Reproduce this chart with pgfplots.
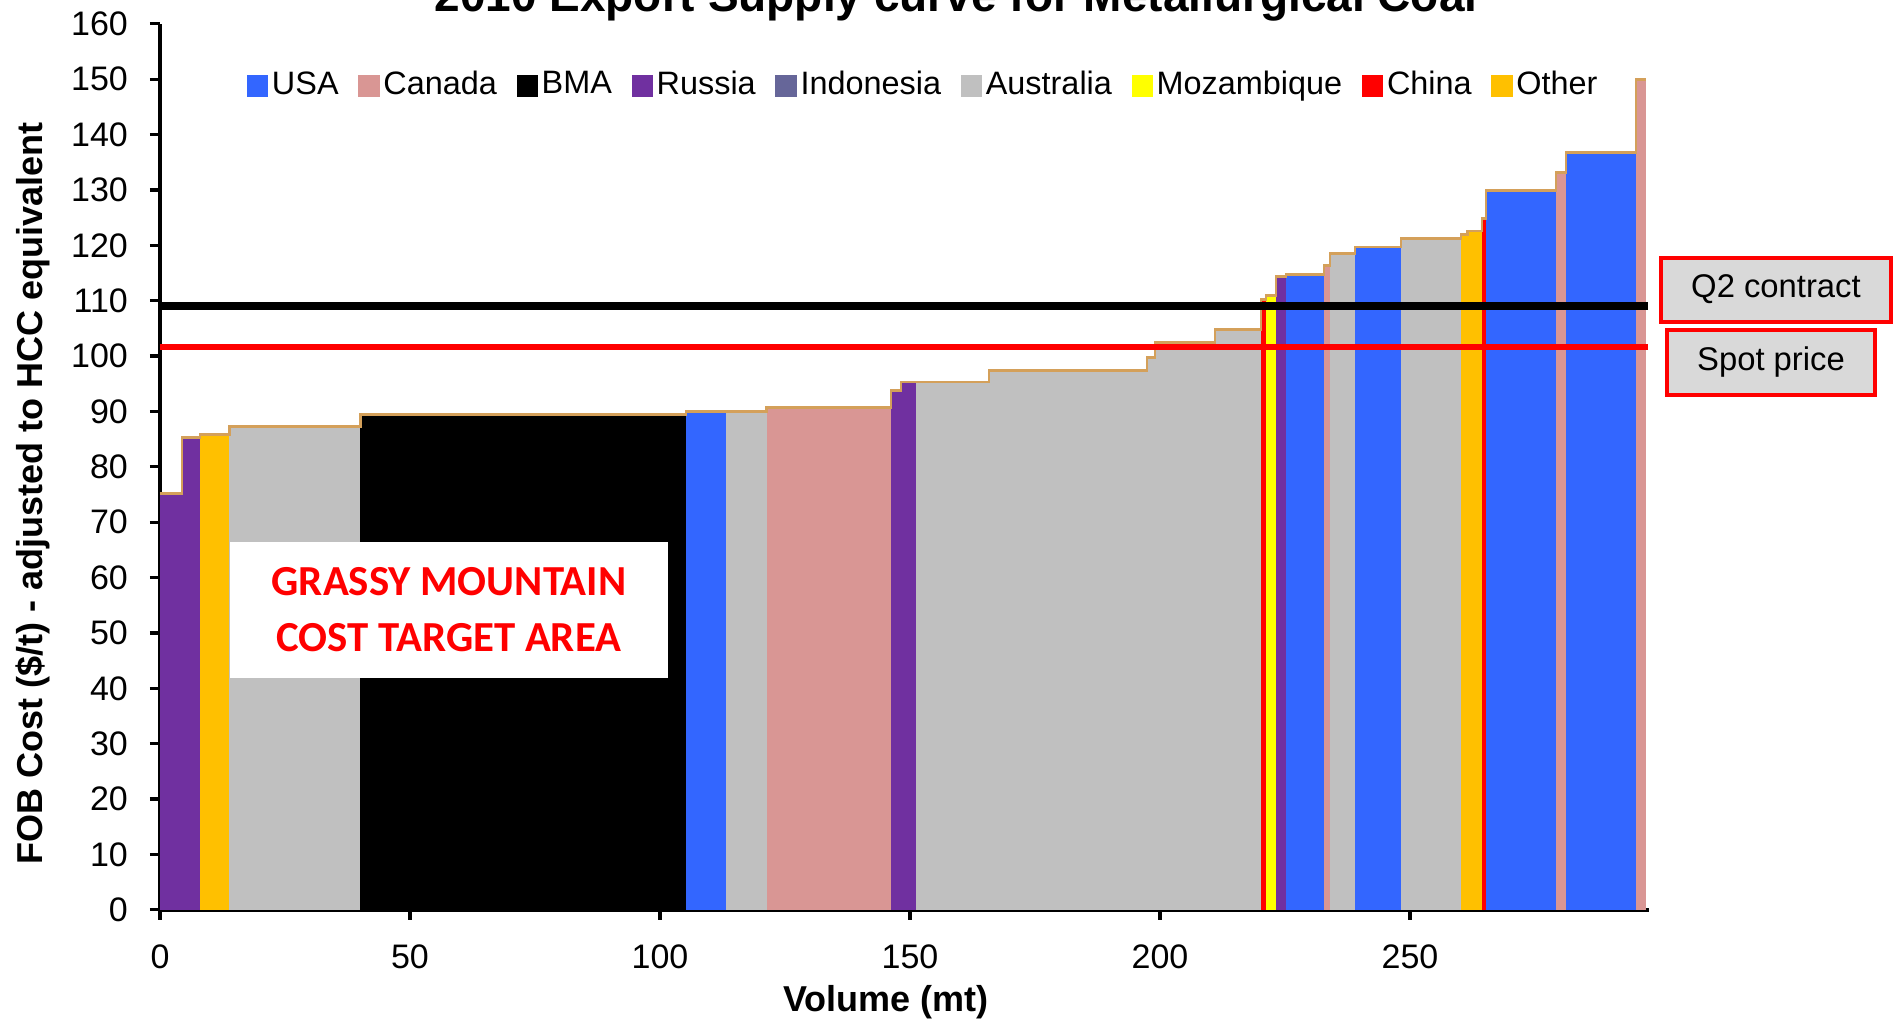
\documentclass[border=0pt]{standalone}
\usepackage{pgfplots}
\pgfplotsset{compat=1.18}
\usepackage{fontspec}
\setmainfont{Liberation Sans}
\newfontfamily\calibri{Carlito}

\definecolor{usa}{RGB}{51,102,255}
\definecolor{canada}{RGB}{217,150,148}
\definecolor{bma}{RGB}{0,0,0}
\definecolor{russia}{RGB}{112,48,160}
\definecolor{indonesia}{RGB}{102,102,153}
\definecolor{australia}{RGB}{192,192,192}
\definecolor{mozambique}{RGB}{255,255,0}
\definecolor{china}{RGB}{255,0,0}
\definecolor{other}{RGB}{255,192,0}
\definecolor{rim}{RGB}{212,160,90}
\definecolor{boxgray}{RGB}{217,217,217}

% one supply block: colour, left edge, right edge, cost
\newcommand{\cbar}[4]{\addplot[fill=#1, draw=none, forget plot] coordinates {(#2,#4) (#3,#4)} \closedcycle;}

\begin{document}
\begin{tikzpicture}
\begin{axis}[
  scale only axis, width=372.25pt, height=221.5pt,
  xmin=0, xmax=297.8, ymin=0, ymax=160,
  axis lines*=left,
  axis line style={line width=0.9pt},
  xtick={0,50,...,250}, ytick={0,10,...,160},
  tick align=outside, major tick length=2.5pt,
  tick style={black, line width=0.8pt},
  /pgf/number format/assume math mode=true,
  ticklabel style={font=\fontsize{8.5}{10}\selectfont},
  xticklabel style={yshift=-2.6pt},
  yticklabel style={xshift=-2pt},
  xlabel={Volume (mt)},
  ylabel={FOB Cost (\$/t) - adjusted to HCC equivalent},
  xlabel style={at={(axis description cs:0.4876,0)}, anchor=center, yshift=-23pt, font=\bfseries\fontsize{9}{10}\selectfont},
  ylabel style={at={(axis description cs:0,0.47)}, anchor=center, yshift=31.75pt, font=\bfseries\fontsize{9}{10}\selectfont},
  clip=false,
  legend image code/.code={\fill[#1, draw=none] (0pt,-2.7pt) rectangle (5.4pt,2.7pt);},
  legend columns=9,
  legend style={at={(axis cs:17.2,148.8)}, anchor=west, draw=none, fill=none, inner sep=0pt,
    font=\fontsize{8.1}{9}\selectfont, nodes={inner sep=0.9pt},
    /tikz/every even column/.append style={column sep=4pt}},
]
% supply curve blocks
\cbar{russia}{0}{4.4}{75.2}
\cbar{russia}{4.4}{8.0}{85.3}
\cbar{other}{8.0}{13.9}{85.8}
\cbar{australia}{13.9}{40.1}{87.3}
\cbar{bma}{40.1}{105.2}{89.5}
\cbar{usa}{105.2}{113.1}{90.0}
\cbar{australia}{113.1}{121.3}{90.0}
\cbar{canada}{121.3}{146.2}{90.7}
\cbar{russia}{146.2}{148.2}{93.8}
\cbar{russia}{148.2}{151.1}{95.3}
\cbar{australia}{151.1}{165.8}{95.3}
\cbar{australia}{165.8}{197.4}{97.4}
\cbar{australia}{197.4}{199.0}{99.8}
\cbar{australia}{199.0}{211.0}{102.5}
\cbar{australia}{211.0}{220.2}{104.8}
\cbar{china}{220.2}{221.2}{110.2}
\cbar{mozambique}{221.2}{223.2}{110.9}
\cbar{russia}{223.2}{225.2}{114.3}
\cbar{usa}{225.2}{232.8}{114.8}
\cbar{canada}{232.8}{234.0}{116.4}
\cbar{australia}{234.0}{239.0}{118.5}
\cbar{usa}{239.0}{248.2}{119.7}
\cbar{australia}{248.2}{260.2}{121.3}
\cbar{other}{260.2}{261.5}{122.0}
\cbar{other}{261.5}{264.4}{122.6}
\cbar{china}{264.4}{265.2}{124.8}
\cbar{usa}{265.2}{279.2}{129.9}
\cbar{canada}{279.2}{281.2}{133.2}
\cbar{usa}{281.2}{295.2}{136.8}
\cbar{canada}{295.2}{297.2}{150.0}

% rim along the top of the curve
\addplot[const plot, draw=rim, line width=0.7pt, forget plot] coordinates {
  (0,75.2) (4.4,85.3) (8.0,85.8) (13.9,87.3) (40.1,89.5) (105.2,90.0) (113.1,90.0)
  (121.3,90.7) (146.2,93.8) (148.2,95.3) (151.1,95.3) (165.8,97.4) (197.4,99.8)
  (199.0,102.5) (211.0,104.8) (220.2,110.2) (221.2,110.9) (223.2,114.3) (225.2,114.8)
  (232.8,116.4) (234.0,118.5) (239.0,119.7) (248.2,121.3) (260.2,122.0) (261.5,122.6)
  (264.4,124.8) (265.2,129.9) (279.2,133.2) (281.2,136.8) (295.2,150.0) (297.2,150.0)};

% price lines
\addplot[china, line width=1.5pt, forget plot] coordinates {(0,101.7) (297.5,101.7)};
\addplot[black, line width=2pt, forget plot] coordinates {(0,109) (297.5,109)};

\addlegendimage{fill=usa}\addlegendentry{USA}
\addlegendimage{fill=canada}\addlegendentry{Canada}
\addlegendimage{fill=bma}\addlegendentry{BMA}
\addlegendimage{fill=russia}\addlegendentry{Russia}
\addlegendimage{fill=indonesia}\addlegendentry{Indonesia}
\addlegendimage{fill=australia}\addlegendentry{Australia}
\addlegendimage{fill=mozambique}\addlegendentry{Mozambique}
\addlegendimage{fill=china}\addlegendentry{China}
\addlegendimage{fill=other}\addlegendentry{Other}

\node[fill=white, minimum width=109.5pt, minimum height=34pt, align=center, text=red,
  font=\calibri\bfseries\fontsize{10.7}{13.9}\selectfont] at (axis cs:57.8,54.2)
  {GRASSY MOUNTAIN\\COST TARGET AREA};

\node[draw=red, line width=1pt, fill=boxgray, minimum width=57.5pt, minimum height=16pt,
  font=\fontsize{8.2}{9}\selectfont] at (axis cs:323.2,112.0) {Q2 contract};
\node[draw=red, line width=1pt, fill=boxgray, minimum width=52pt, minimum height=16.25pt,
  font=\fontsize{8.2}{9}\selectfont] at (axis cs:322.2,98.9) {Spot price};

\node[anchor=base, font=\bfseries\fontsize{11.5}{13}\selectfont] at (axis cs:159.2,162.2)
  {2010 Export Supply curve for Metallurgical Coal};

\coordinate (bbsw) at (axis cs:-32,-20.95);
\coordinate (bbne) at (axis cs:347.6,164.3);
\end{axis}
\pgfresetboundingbox
\path[use as bounding box] (bbsw) rectangle (bbne);
\end{tikzpicture}
\end{document}
